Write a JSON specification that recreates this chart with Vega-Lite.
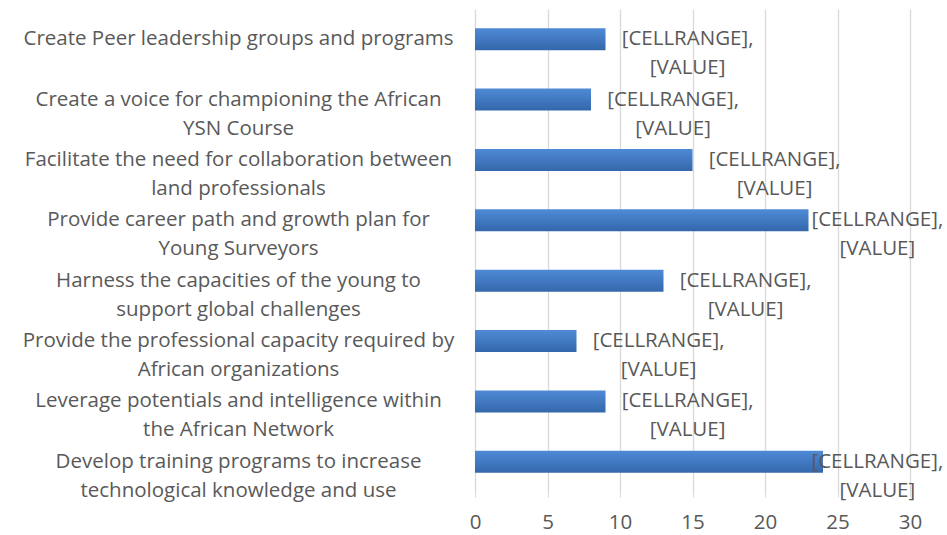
{
  "$schema": "https://vega.github.io/schema/vega-lite/v6.json",
  "width": 435,
  "height": 483,
  "autosize": "none",
  "padding": {"left": 475, "top": 9, "right": 37, "bottom": 43},
  "background": "white",
  "config": {"view": {"stroke": null}, "font": "Open Sans"},
  "data": {
    "values": [
      {"category": "Create Peer leadership groups and programs", "value": 9},
      {"category": "Create a voice for championing the African\nYSN Course", "value": 8},
      {"category": "Facilitate the need for collaboration between\nland professionals", "value": 15},
      {"category": "Provide career path and growth plan for\nYoung Surveyors", "value": 23},
      {"category": "Harness the capacities of the young to\nsupport global challenges", "value": 13},
      {"category": "Provide the professional capacity required by\nAfrican organizations", "value": 7},
      {"category": "Leverage potentials and intelligence within\nthe African Network", "value": 9},
      {"category": "Develop training programs to increase\ntechnological knowledge and use", "value": 24}
    ]
  },
  "encoding": {
    "y": {
      "field": "category",
      "type": "nominal",
      "sort": null,
      "scale": {"paddingInner": 0.636, "paddingOuter": 0.318},
      "axis": {
        "title": null,
        "domain": false,
        "ticks": false,
        "grid": false,
        "labelAlign": "center",
        "labelBaseline": "middle",
        "labelPadding": 237,
        "labelFontSize": 20.5,
        "labelColor": "#595959",
        "labelLineHeight": 29,
        "labelLimit": 0,
        "labelExpr": "split(datum.label, '\\n')"
      }
    }
  },
  "layer": [
    {
      "mark": {
        "type": "bar",
        "color": {
          "gradient": "linear",
          "x1": 0, "y1": 0, "x2": 0, "y2": 1,
          "stops": [
            {"offset": 0, "color": "#4f8ad6"},
            {"offset": 1, "color": "#3467ab"}
          ]
        }
      },
      "encoding": {
        "x": {
          "field": "value",
          "type": "quantitative",
          "scale": {"domain": [0, 30], "nice": false},
          "axis": {
            "title": null,
            "values": [0, 5, 10, 15, 20, 25, 30],
            "grid": true,
            "gridColor": "#d9d9d9",
            "gridWidth": 1.3,
            "domain": false,
            "ticks": true,
            "tickColor": "#d9d9d9",
            "tickSize": 5,
            "labelPadding": 15,
            "labelFlush": false,
            "labelFontSize": 20.5,
            "labelColor": "#595959"
          }
        }
      }
    },
    {
      "transform": [{"calculate": "min(datum.value + 5.66, 27.75)", "as": "labelPos"}],
      "mark": {
        "type": "text",
        "text": ["[CELLRANGE],", "[VALUE]"],
        "align": "center",
        "baseline": "middle",
        "fontSize": 20.5,
        "lineHeight": 29,
        "color": "#595959"
      },
      "encoding": {
        "x": {"field": "labelPos", "type": "quantitative"}
      }
    }
  ]
}
